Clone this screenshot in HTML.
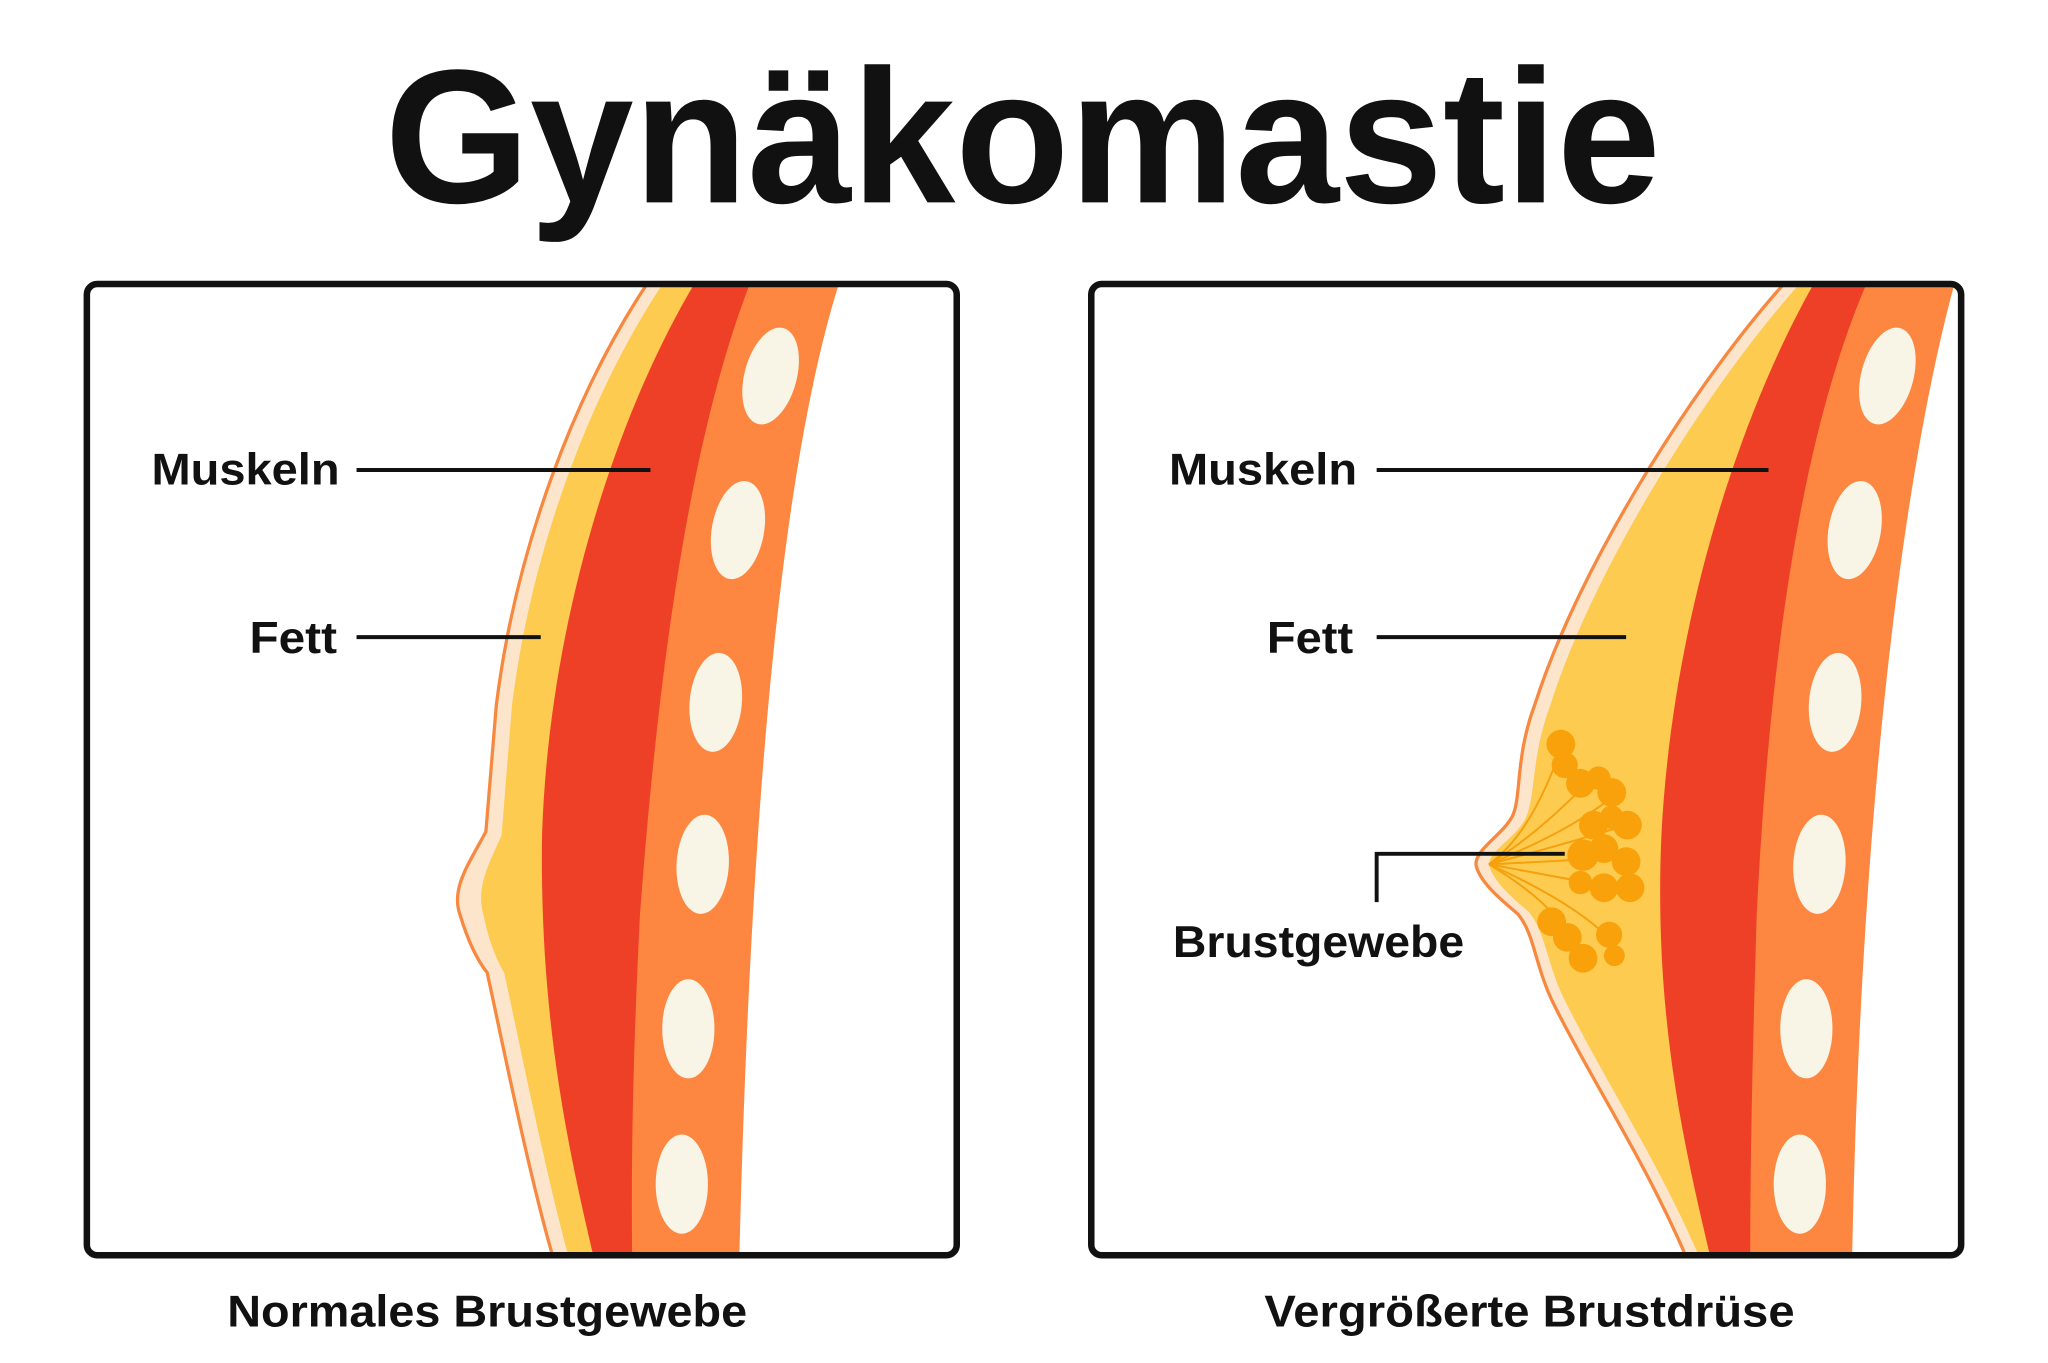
<!DOCTYPE html>
<html><head><meta charset="utf-8"><style>
html,body{margin:0;padding:0;background:#fff;width:2048px;height:1363px;overflow:hidden}
svg{display:block}
text{font-family:"Liberation Sans",sans-serif;font-weight:bold;fill:#111}
</style></head><body>
<svg width="2048" height="1363" viewBox="0 0 1568 1044" preserveAspectRatio="none" xmlns="http://www.w3.org/2000/svg">
<defs>
<clipPath id="cl"><rect x="68" y="219" width="663" height="741" rx="6"/></clipPath>
<clipPath id="cr"><rect x="837" y="219" width="663" height="741" rx="6"/></clipPath>
</defs>
<rect width="1568" height="1044" fill="#fff"/>
<text x="783" y="155" font-size="146" text-anchor="middle" textLength="977" lengthAdjust="spacingAndGlyphs">Gynäkomastie</text>

<!-- LEFT -->
<g clip-path="url(#cl)">
<path d="M497,215 C440,300 395,420 380,540 L372,637 C360,660 345,680 352,700 C358,720 365,735 373,745 C385,800 405,900 424,965 L740,965 L740,215 Z" fill="#fde5cc" stroke="#f7883f" stroke-width="2.5"/>
<path d="M509,215 C452,300 407,420 392,540 L384,640 C375,660 364,680 370,700 C374,720 380,735 386,745 C398,800 418,900 436,965 L740,965 L740,215 Z" fill="#fccb50"/>
<path d="M533,215 C470,320 420,480 415,640 C413,780 435,880 455,965 L740,965 L740,215 Z" fill="#ee4027"/>
<path d="M575,215 C530,330 505,500 490,700 C485,800 483,880 484,965 L740,965 L740,215 Z" fill="#fd8640"/>
<path d="M643,215 C600,350 575,600 566,965 L740,965 L740,215 Z" fill="#fff"/>
<g fill="#f8f5e6">
<ellipse cx="590" cy="288" rx="20" ry="38" transform="rotate(15 590 288)"/>
<ellipse cx="565" cy="406" rx="20" ry="38" transform="rotate(10 565 406)"/>
<ellipse cx="548" cy="538" rx="20" ry="38" transform="rotate(5 548 538)"/>
<ellipse cx="538" cy="662" rx="20" ry="38" transform="rotate(3 538 662)"/>
<ellipse cx="527" cy="788" rx="20" ry="38"/>
<ellipse cx="522" cy="907" rx="20" ry="38"/>
</g>
</g>
<rect x="66.5" y="217.5" width="666" height="744" rx="8" fill="none" stroke="#111" stroke-width="5"/>
<text x="116" y="371" font-size="34" textLength="144" lengthAdjust="spacingAndGlyphs">Muskeln</text>
<line x1="273" y1="360" x2="498" y2="360" stroke="#111" stroke-width="3"/>
<text x="191" y="500" font-size="34" textLength="67" lengthAdjust="spacingAndGlyphs">Fett</text>
<line x1="273" y1="488" x2="414" y2="488" stroke="#111" stroke-width="3"/>
<text x="174" y="1016" font-size="34" textLength="398" lengthAdjust="spacingAndGlyphs">Normales Brustgewebe</text>

<!-- RIGHT -->
<g clip-path="url(#cr)">
<path d="M1368,215 C1300,290 1210,430 1175,540 C1160,580 1165,610 1158,625 C1150,640 1130,650 1130,662 C1132,675 1150,690 1162,700 C1175,715 1175,740 1190,770 C1220,830 1260,890 1292,965 L1510,965 L1510,215 Z" fill="#fde5cc" stroke="#f7883f" stroke-width="2.5"/>
<path d="M1380,215 C1312,290 1222,430 1187,540 C1172,580 1176,610 1168,627 C1160,642 1140,652 1140,662 C1142,674 1158,688 1170,698 C1184,714 1184,740 1200,770 C1230,830 1270,890 1302,965 L1510,965 L1510,215 Z" fill="#fccb50"/>
<path d="M1390,215 C1330,320 1280,480 1272,640 C1266,780 1290,880 1310,965 L1510,965 L1510,215 Z" fill="#ee4027"/>
<path d="M1430,215 C1380,330 1355,500 1345,700 C1342,800 1340,880 1340,965 L1510,965 L1510,215 Z" fill="#fd8640"/>
<path d="M1497,215 C1460,350 1425,600 1418,965 L1510,965 L1510,215 Z" fill="#fff"/>
<g fill="#f8f5e6">
<ellipse cx="1445" cy="288" rx="20" ry="38" transform="rotate(15 1445 288)"/>
<ellipse cx="1420" cy="406" rx="20" ry="38" transform="rotate(10 1420 406)"/>
<ellipse cx="1405" cy="538" rx="20" ry="38" transform="rotate(5 1405 538)"/>
<ellipse cx="1393" cy="662" rx="20" ry="38" transform="rotate(3 1393 662)"/>
<ellipse cx="1383" cy="788" rx="20" ry="38"/>
<ellipse cx="1378" cy="907" rx="20" ry="38"/>
</g>
<g stroke="#f5a00c" stroke-width="1.5" fill="none">
<path d="M1140,662 C1170,640 1185,600 1195,575"/>
<path d="M1140,662 C1175,640 1200,615 1215,600"/>
<path d="M1140,662 C1180,645 1210,630 1235,610"/>
<path d="M1140,662 C1185,650 1220,640 1245,632"/>
<path d="M1140,662 C1185,660 1220,658 1240,656"/>
<path d="M1140,662 C1185,670 1220,678 1248,680"/>
<path d="M1140,662 C1170,680 1195,700 1210,730"/>
<path d="M1140,662 C1180,680 1215,700 1235,722"/>
</g>
<g fill="#f9a10a">
<circle cx="1195" cy="570" r="11"/><circle cx="1198" cy="586" r="10"/>
<circle cx="1210" cy="600" r="11"/><circle cx="1224" cy="596" r="9"/>
<circle cx="1234" cy="607" r="11"/>
<circle cx="1220" cy="632" r="11"/><circle cx="1246" cy="632" r="11"/><circle cx="1234" cy="626" r="9"/>
<circle cx="1212" cy="655" r="12"/><circle cx="1228" cy="650" r="11"/><circle cx="1245" cy="660" r="11"/>
<circle cx="1228" cy="680" r="11"/><circle cx="1248" cy="680" r="11"/><circle cx="1210" cy="676" r="9"/>
<circle cx="1188" cy="706" r="11"/><circle cx="1200" cy="718" r="11"/>
<circle cx="1212" cy="734" r="11"/><circle cx="1232" cy="716" r="10"/><circle cx="1236" cy="732" r="8"/>
</g>
</g>
<rect x="835.5" y="217.5" width="666" height="744" rx="8" fill="none" stroke="#111" stroke-width="5"/>
<text x="895" y="371" font-size="34" textLength="144" lengthAdjust="spacingAndGlyphs">Muskeln</text>
<line x1="1054" y1="360" x2="1354" y2="360" stroke="#111" stroke-width="3"/>
<text x="970" y="500" font-size="34" textLength="66" lengthAdjust="spacingAndGlyphs">Fett</text>
<line x1="1054" y1="488" x2="1245" y2="488" stroke="#111" stroke-width="3"/>
<polyline points="1054,691 1054,654 1198,654" fill="none" stroke="#111" stroke-width="3"/>
<text x="898" y="733" font-size="34" textLength="223" lengthAdjust="spacingAndGlyphs">Brustgewebe</text>
<text x="968" y="1016" font-size="34" textLength="406" lengthAdjust="spacingAndGlyphs">Vergrößerte Brustdrüse</text>
</svg>
</body></html>
